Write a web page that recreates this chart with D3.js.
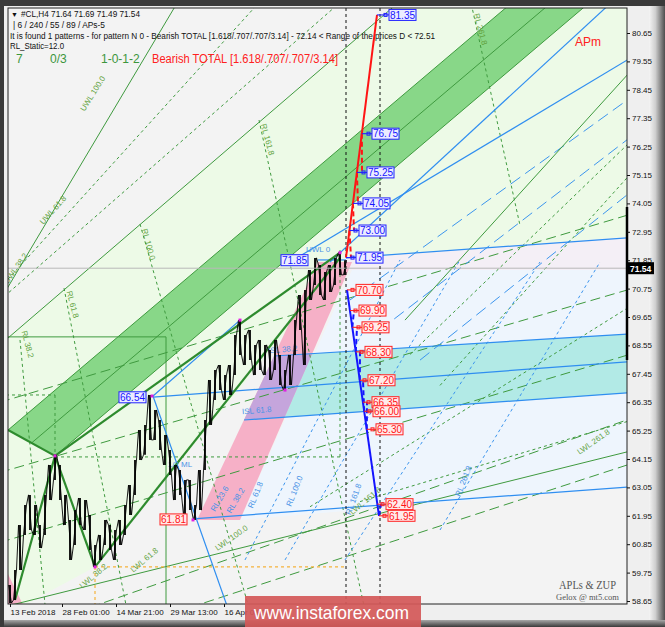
<!DOCTYPE html>
<html>
<head>
<meta charset="utf-8">
<script src="https://cdn.jsdelivr.net/npm/d3@7"></script>
<style>
body { margin: 0; background: #3a3a3a; }
svg { display: block; font-family: "Liberation Sans", Arial, sans-serif; }
</style>
</head>
<body>
<svg width="665" height="627"></svg>
<script>
// ---- data (bar index, price) ----
var highs = [59.27,59.85,61.59,62.37,62.76,62.37,61.59,62.76,63.92,64.31,63.92,62.76,61.79,62.17,62.64,62.56,61.98,60.82,61.21,61.79,61.59,61.40,61.79,62.37,63.14,64.11,65.27,65.47,66.63,66.05,65.66,65.08,64.50,63.92,63.72,63.34,63.34,62.37,63.72,65.66,67.21,67.60,67.79,67.40,67.79,68.95,69.53,68.95,69.15,68.57,68.76,68.57,68.37,68.76,68.18,67.60,68.18,69.53,70.50,70.70,71.47,71.94,71.66,71.39,71.66,71.94,72.14,71.85];
var lows = [58.57,58.69,59.85,61.21,61.40,61.21,60.70,61.21,62.56,63.34,62.56,61.59,60.24,60.82,61.59,61.40,60.63,59.97,60.24,60.82,60.63,60.24,60.82,61.21,61.98,62.76,64.11,64.31,64.89,64.89,64.50,63.92,63.53,62.56,62.76,61.98,62.17,61.79,62.17,63.72,65.47,66.44,66.82,66.44,66.63,67.40,68.18,67.79,67.98,67.40,67.60,67.40,67.21,67.60,67.02,66.82,67.02,68.18,69.15,67.79,70.31,70.89,70.50,70.31,70.62,70.89,71.28,71.28];
var lastClose = 71.54;

var priceTicks = [80.65,79.55,78.45,77.35,76.25,75.15,74.05,72.95,71.85,70.75,69.65,68.55,67.45,66.35,65.25,64.15,63.05,61.95,60.85,59.75,58.65];
var timeTicks = [0, 10.4, 21.2, 32, 42.8];
var timeLabels = ["13 Feb 2018", "28 Feb 01:00", "14 Mar 21:00", "29 Mar 13:00", "16 Apr 05:00"];

// bearish projection up (blue boxes) and down (red boxes)
var upLevels = [71.95, 73.00, 74.05, 75.25, 76.75, 81.35];
var upLabelAt = [69.2, 69.8, 70.6, 71.4, 72.4, 75.8];
var upStart = [67.2, 71.95], upEnd = [73.4, 81.35];
var upDashed = [[76.75, 75.25], [75.25, 74.05], [74.05, 73.00], [73.00, 71.95]];

var downLevels = [70.70, 69.90, 69.25, 68.30, 67.20, 66.35, 66.00, 65.30, 62.40, 61.95];
var downLabelAt = [69.2, 69.8, 70.4, 71.0, 71.6, 72.4, 72.6, 73.2, 75.2, 75.6];
var downStart = [67.4, 70.70], downEnd = [73.8, 61.95];
var downDashed = [[69.25, 69.90], [68.30, 69.25], [67.20, 68.30], [66.00, 67.20], [65.30, 66.35], [61.95, 62.40]];

var pointLabels = [["71.85", 54.2, 71.85, "up"], ["66.54", 21.8, 66.54, "up"], ["61.81", 30.0, 61.81, "down"]];
var pivots = [[9, 64.27], [17, 59.97], [28.4, 66.59], [36.6, 61.79], [46, 69.53], [55, 66.82], [66, 72.14]];

// zones
var greenZone = [[-2,68.57],[78.7,82],[126,82],[126,72.8],[67.2,71.94],[17,59.97],[1,58.3],[-2,58.3]];
var lavenderZone = [[67.2,71.94],[126,72.75],[126,71.47],[67.2,71.47]];
var blueZone = [[46,61.79],[126,63.10],[126,71.47],[68.4,71.47]];
var pinkBand = [[37.4,61.79],[46,61.79],[68.4,71.78],[61.6,71.78]];
var pinkCorner = [[-0.4,59.7],[2.6,58.5],[-0.4,58.5]];
var tealBand = [[52.8,68.14],[126,69.02],[126,66.745],[46.8,65.66]];
var greenBand = [[-0.4,65.27],[105.7,82.7],[121.2,82.7],[9,64.27]];

// guide lines
var thickGreen = [
  [[-0.4,65.27],[9,64.27]], [[1,58.69],[9,64.27]], [[9,64.27],[17,59.97]],
  [[17,59.97],[66,71.94]], [[9,64.27],[66,72.14]]
];
var thinGreen = [
  [[-2,68.57],[78.7,82]], [[-2,70.29],[34,82]], [[0,58.48],[126,64.55]],
  [[-0.4,65.27],[105.7,82.7]], [[9,64.27],[121.2,82.7]], [[4.3,64.77],[116,83.1]],
  [[-2,68.88],[31.2,68.88]], [[31.2,68.88],[31.2,58]], [[79,69.53],[126,79.57]]
];
var dashGreen = [
  [[-2,70.77],[50.6,82]], [[-2,70.30],[67,82]],
  [[2,68.76],[7.2,58.1]], [[10.8,70.77],[23.6,58.1]], [[26,73.25],[48.2,58.1]],
  [[49.8,77.28],[71.2,58.1]], [[92,82],[102,73.2]],
  [[9,64.23],[66,64.23]], [[66,64.23],[66,72.24]], [[-2,66.63],[9,66.63]], [[9,66.63],[9,64.23]],
  [[80,68.2],[126,76.8]], [[86,67.0],[126,75.6]],
  [[70,62.5],[126,65.75]], [[60,62.3],[126,70.3]]
];
var longDashGreen = [
  [[-2,66.35],[126,73.74]], [[-2,63.63],[126,70.84]], [[-2,60.92],[126,68.32]],
  [[16,58.4],[126,65.84]], [[36,58.4],[126,64.08]]
];
var blueSolid = [
  [[28.6,66.59],[43.7,58.3]], [[28.6,66.59],[46,69.53]], [[28.6,66.55],[126,67.95]],
  [[52.8,68.14],[126,69.02]], [[46.8,65.66],[126,66.745]], [[67.2,71.94],[126,72.75]],
  [[36.6,61.83],[126,63.10]], [[61.6,71.86],[67.2,71.86]],
  [[56,71.78],[126,79.9]], [[64,71.78],[121.2,82]]
];
var blueLongDash = [[[68,70.31],[126,78.41]], [[74,69.15],[126,76.9]], [[82,67.98],[126,74.78]]];
var blueShortDash = [[[47,60.24],[78,71.86]], [[55,60.24],[90,71.86]], [[67,60.24],[106,71.78]], [[86,61.40],[118,71.78]]];
var orangeDot = [[[17,59.97],[67.2,59.97]], [[17,59.97],[17,58.3]]];
var markerBars = [67.2, 74];

var greenNames = [["UWL 100.0",17,78.25],["UWL 61.8",9,73.72],["UWL 38.2",1.6,71.47],["RL 161.8",51,76.5],["RL 100.0",27.2,72.44],["RL 61.8",12,70.11],["RL 38.2",3,68.57],["RL 261.8",93.6,80.77],["LWL 38.2",17,59.54],["LWL 61.8",27.2,60.16],["LWL 100.0",44.6,61.01],["LWL 161.8",71.4,62.45],["LWL 261.8",117,64.73]];
var greenAngles = [-58,-48,-55,75,75,75,75,75,-40,-40,-35,-40,-35];
var blueNames = [["ISL 38.2",54.6,68.29],["ISL 61.8",49.4,65.93],["1/2 ML",34,63.84],["UWL 0",61.6,72.17],["RL 61.8",49.6,62.72],["RL 100.0",57.4,62.87],["RL 161.8",69.2,62.56],["RL 261.8",91.2,63.26],["RL 23.6",42.4,62.56],["RL 38.2",45.6,62.49]];
var blueAngles = [-5,-5,0,0,-68,-68,-70,-68,-60,-60];

var header = ["#CL,H4  71.64 71.69 71.49 71.54", "| 6 / 240 / 55 / 89 / APs-5",
  "It is found 1 patterns  -  for pattern N 0 - Bearish TOTAL [1.618/.707/.707/3.14] - 72.14 < Range of the prices D < 72.51",
  "RL_Static=12.0"];
var counters = ["7", "0/3", "1-0-1-2"];
var patternName = "Bearish TOTAL [1.618/.707/.707/3.14]";

// ---- drawing ----
var L = 8, T = 8, R = 627, B = 604;
var svg = d3.select('svg');
var x = d3.scaleLinear().domain([0, 67]).range([10, 345]);
var y = d3.scaleLinear().domain([58.65, 80.65]).range([601, 33]);
var line = d3.line().x(function(d) { return x(d[0]); }).y(function(d) { return y(d[1]); });
function poly(pts) { return line(pts) + 'Z'; }

var defs = svg.append('defs');
var gR = defs.append('linearGradient').attr('id', 'bevR');
gR.append('stop').attr('offset', '0%').attr('stop-color', '#f4f4f4');
gR.append('stop').attr('offset', '40%').attr('stop-color', '#cfcfcf');
gR.append('stop').attr('offset', '100%').attr('stop-color', '#4e4e4e');
var gB = defs.append('linearGradient').attr('id', 'bevB').attr('x1', 0).attr('y1', 0).attr('x2', 0).attr('y2', 1);
gB.append('stop').attr('offset', '0%').attr('stop-color', '#a8a8a8');
gB.append('stop').attr('offset', '100%').attr('stop-color', '#3a3a3a');
defs.append('clipPath').attr('id', 'plot').append('rect')
  .attr('x', L).attr('y', T).attr('width', R - L).attr('height', B - T);
defs.append('clipPath').attr('id', 'pinkClip').append('path').attr('d', poly(pinkBand));

// window frame
svg.append('rect').attr('width', 665).attr('height', 627).attr('fill', '#3a3a3a');
svg.append('rect').attr('x', 4).attr('y', 6).attr('width', 646).attr('height', 616).attr('fill', '#efefef');
svg.append('rect').attr('x', 649).attr('y', 6).attr('width', 16).attr('height', 621).attr('fill', 'url(#bevR)');
svg.append('rect').attr('x', 4).attr('y', 620).attr('width', 661).attr('height', 7).attr('fill', 'url(#bevB)');

var g = svg.append('g').attr('clip-path', 'url(#plot)');
g.append('rect').attr('x', L).attr('y', T).attr('width', R - L).attr('height', B - T).attr('fill', '#f3f3f3');
g.append('path').attr('d', poly(greenZone)).attr('fill', '#edfae7');
g.append('path').attr('d', poly(lavenderZone)).attr('fill', '#f4eff6');
g.append('path').attr('d', poly(blueZone)).attr('fill', '#eef5fd');
g.append('path').attr('d', poly(tealBand)).attr('fill', '#b2eae6');
g.append('path').attr('d', poly(pinkBand)).attr('fill', '#f6b0c7');
g.append('path').attr('d', poly(tealBand)).attr('fill', '#c5a5dc').attr('clip-path', 'url(#pinkClip)');
g.append('path').attr('d', poly(pinkCorner)).attr('fill', '#f6b0c7');
g.append('path').attr('d', poly(greenBand)).attr('fill', '#88d788');

function drawLines(set, color, width, dash) {
  g.selectAll(null).data(set).enter().append('path')
    .attr('d', function(d) { return line(d); })
    .attr('fill', 'none').attr('stroke', color).attr('stroke-width', width)
    .attr('stroke-dasharray', dash);
}
drawLines(longDashGreen, '#3f9a3f', 1, '10,5');
drawLines(dashGreen, '#3f9a3f', 1, '3,3');
drawLines(blueShortDash, '#3c95ee', 1, '3,3');
drawLines(blueLongDash, '#3c95ee', 1, '12,6');
drawLines(thinGreen, '#3f9a3f', 1, null);
drawLines(blueSolid, '#2f8ef0', 1.2, null);
drawLines(orangeDot, '#f5b33c', 1.2, '3,3');
drawLines(thickGreen, '#2e8b2e', 2.2, null);

// line names
g.selectAll(null).data(greenNames).enter().append('text')
  .attr('transform', function(d, k) { return 'translate(' + x(d[1]) + ',' + y(d[2]) + ') rotate(' + greenAngles[k] + ')'; })
  .attr('text-anchor', 'middle').attr('font-size', 8).attr('fill', '#63a33f')
  .text(function(d) { return d[0]; });
g.selectAll(null).data(blueNames).enter().append('text')
  .attr('transform', function(d, k) { return 'translate(' + x(d[1]) + ',' + y(d[2]) + ') rotate(' + blueAngles[k] + ')'; })
  .attr('text-anchor', 'middle').attr('font-size', 8).attr('fill', '#4a93e6')
  .text(function(d) { return d[0]; });

// price bars
var idx = d3.range(highs.length);
var zz = [];
idx.forEach(function(i) {
  if (i % 2 === 0) { zz.push([i - 0.3, highs[i]]); zz.push([i + 0.3, lows[i]]); }
  else { zz.push([i - 0.3, lows[i]]); zz.push([i + 0.3, highs[i]]); }
});
g.append('path').attr('d', line(zz)).attr('fill', 'none').attr('stroke', '#000').attr('stroke-width', 0.9);
g.selectAll(null).data(idx).enter().append('line')
  .attr('x1', function(i) { return x(i); }).attr('x2', function(i) { return x(i); })
  .attr('y1', function(i) { return y(highs[i]); }).attr('y2', function(i) { return y(lows[i]); })
  .attr('stroke', '#000').attr('stroke-width', 1.8);

// current price line and marker lines
g.append('line').attr('x1', L).attr('x2', R).attr('y1', y(lastClose)).attr('y2', y(lastClose))
  .attr('stroke', '#b8b8b8').attr('stroke-width', 1);
g.selectAll(null).data(markerBars).enter().append('line')
  .attr('x1', function(d) { return x(d); }).attr('x2', function(d) { return x(d); })
  .attr('y1', T).attr('y2', B).attr('stroke', '#111').attr('stroke-dasharray', '3,3');

// pivots
g.selectAll(null).data(pivots).enter().append('rect')
  .attr('x', function(d) { return x(d[0]) - 1.5; }).attr('y', function(d) { return y(d[1]) - 1.5; })
  .attr('width', 3).attr('height', 3).attr('fill', '#e020e0');

// projections
function along(a, b, p) { return a[0] + (p - a[1]) / (b[1] - a[1]) * (b[0] - a[0]); }
function labelIdx(levels, at, p) { return at[levels.indexOf(p)]; }

g.append('path').attr('d', line([upStart, upEnd])).attr('stroke', '#ff1414').attr('stroke-width', 2).attr('fill', 'none');
g.selectAll(null).data(upDashed).enter().append('path')
  .attr('d', function(d) { return line([[along(upStart, upEnd, d[0]), d[0]], [labelIdx(upLevels, upLabelAt, d[1]) - 1, d[1]]]); })
  .attr('stroke', '#ff1414').attr('stroke-width', 2).attr('stroke-dasharray', '5,3').attr('fill', 'none');
g.append('path').attr('d', line([downStart, downEnd])).attr('stroke', '#1414ff').attr('stroke-width', 2).attr('fill', 'none');
g.selectAll(null).data(downDashed).enter().append('path')
  .attr('d', function(d) { return line([[along(downStart, downEnd, d[0]), d[0]], [labelIdx(downLevels, downLabelAt, d[1]) - 1, d[1]]]); })
  .attr('stroke', '#1414ff').attr('stroke-width', 2).attr('stroke-dasharray', '5,3').attr('fill', 'none');

var styles = {
  up: { fill: '#ececff', stroke: '#2222ff', text: '#1414ff' },
  down: { fill: '#ffeaea', stroke: '#ff2222', text: '#ff1414' }
};
function levelBox(text, i, p, st, fromI) {
  var bx = x(i), by = y(p);
  if (fromI !== null) {
    g.append('line').attr('x1', x(fromI)).attr('x2', bx).attr('y1', by).attr('y2', by)
      .attr('stroke', st.stroke).attr('stroke-width', 1.1);
    g.append('rect').attr('x', bx - 5).attr('y', by - 1.5).attr('width', 3).attr('height', 3)
      .attr('fill', 'none').attr('stroke', st.stroke).attr('stroke-width', 1);
  }
  g.append('rect').attr('x', bx).attr('y', by - 5.5).attr('width', 27).attr('height', 11)
    .attr('fill', st.fill).attr('stroke', st.stroke).attr('stroke-width', 1);
  g.append('text').attr('x', bx + 13.5).attr('y', by + 3.8).attr('text-anchor', 'middle')
    .attr('font-size', 10).attr('fill', st.text).text(text);
}
upLevels.forEach(function(p, k) { levelBox(p.toFixed(2), upLabelAt[k], p, styles.up, along(upStart, upEnd, p)); });
downLevels.forEach(function(p, k) { levelBox(p.toFixed(2), downLabelAt[k], p, styles.down, along(downStart, downEnd, p)); });
pointLabels.forEach(function(d) { levelBox(d[0], d[1], d[2], styles[d[3]], null); });

// header texts
var hdr = svg.append('g').attr('font-size', 8.5).attr('fill', '#111');
hdr.append('text').attr('x', 11).attr('y', 17).attr('font-size', 7).text('\u25BC');
hdr.append('text').attr('x', 21).attr('y', 17).attr('textLength', 119).attr('lengthAdjust', 'spacingAndGlyphs').text(header[0]);
hdr.append('text').attr('x', 13).attr('y', 28).attr('textLength', 92).attr('lengthAdjust', 'spacingAndGlyphs').text(header[1]);
hdr.append('text').attr('x', 10).attr('y', 39).attr('textLength', 425).attr('lengthAdjust', 'spacingAndGlyphs').text(header[2]);
hdr.append('text').attr('x', 10).attr('y', 49).attr('textLength', 54).attr('lengthAdjust', 'spacingAndGlyphs').text(header[3]);
var cx = [16, 50, 101];
counters.forEach(function(c, k) {
  svg.append('text').attr('x', cx[k]).attr('y', 63).attr('font-size', 12).attr('fill', '#3c963c').text(c);
});
svg.append('text').attr('x', 152).attr('y', 63).attr('font-size', 12.5).attr('fill', '#ff2020')
  .attr('textLength', 186).attr('lengthAdjust', 'spacingAndGlyphs').text(patternName);
svg.append('text').attr('x', 575).attr('y', 46).attr('font-size', 12).attr('fill', '#ff2020').text('APm');
svg.append('text').attr('x', 559).attr('y', 589).attr('font-family', '"Liberation Serif", serif').attr('font-size', 12)
  .attr('fill', '#555').attr('textLength', 57).attr('lengthAdjust', 'spacingAndGlyphs').text('APLs & ZUP');
svg.append('text').attr('x', 556).attr('y', 600).attr('font-family', '"Liberation Serif", serif').attr('font-size', 8)
  .attr('fill', '#555').attr('textLength', 63).attr('lengthAdjust', 'spacingAndGlyphs').text('Gelox @ mt5.com');

// plot border
svg.append('rect').attr('x', L).attr('y', T).attr('width', R - L).attr('height', B - T)
  .attr('fill', 'none').attr('stroke', '#222').attr('stroke-width', 1);
svg.append('line').attr('x1', R).attr('x2', R).attr('y1', 207).attr('y2', 360)
  .attr('stroke', '#000').attr('stroke-width', 2.5);

// axes
var yAxis = svg.append('g').attr('transform', 'translate(' + R + ',0)')
  .call(d3.axisRight(y).tickValues(priceTicks).tickSize(3).tickPadding(2).tickFormat(d3.format('.2f')));
yAxis.select('.domain').remove();
yAxis.selectAll('text').attr('font-size', 8).attr('fill', '#111').attr('font-family', '"Liberation Sans", Arial, sans-serif');
yAxis.selectAll('line').attr('stroke', '#111');

var xAxis = svg.append('g').attr('transform', 'translate(0,' + B + ')')
  .call(d3.axisBottom(x).tickValues(timeTicks).tickSize(3).tickPadding(2)
    .tickFormat(function(d, k) { return timeLabels[k]; }));
xAxis.select('.domain').remove();
xAxis.selectAll('text').attr('font-size', 8).attr('fill', '#111').attr('text-anchor', 'start')
  .attr('font-family', '"Liberation Sans", Arial, sans-serif');
xAxis.selectAll('line').attr('stroke', '#111');

// current price tag
svg.append('rect').attr('x', R).attr('y', y(lastClose) - 6).attr('width', 27).attr('height', 12).attr('fill', '#000');
svg.append('text').attr('x', R + 3).attr('y', y(lastClose) + 3.5).attr('font-size', 8.5).attr('fill', '#fff')
  .attr('font-weight', 'bold').text(lastClose.toFixed(2));

// watermark banner
svg.append('rect').attr('x', 245).attr('y', 596).attr('width', 176).attr('height', 31).attr('fill', '#d45858').attr('opacity', 0.92);
svg.append('text').attr('x', 254).attr('y', 619).attr('font-size', 19).attr('fill', '#fff')
  .attr('textLength', 155).attr('lengthAdjust', 'spacingAndGlyphs').text('www.instaforex.com');
</script>
</body>
</html>
